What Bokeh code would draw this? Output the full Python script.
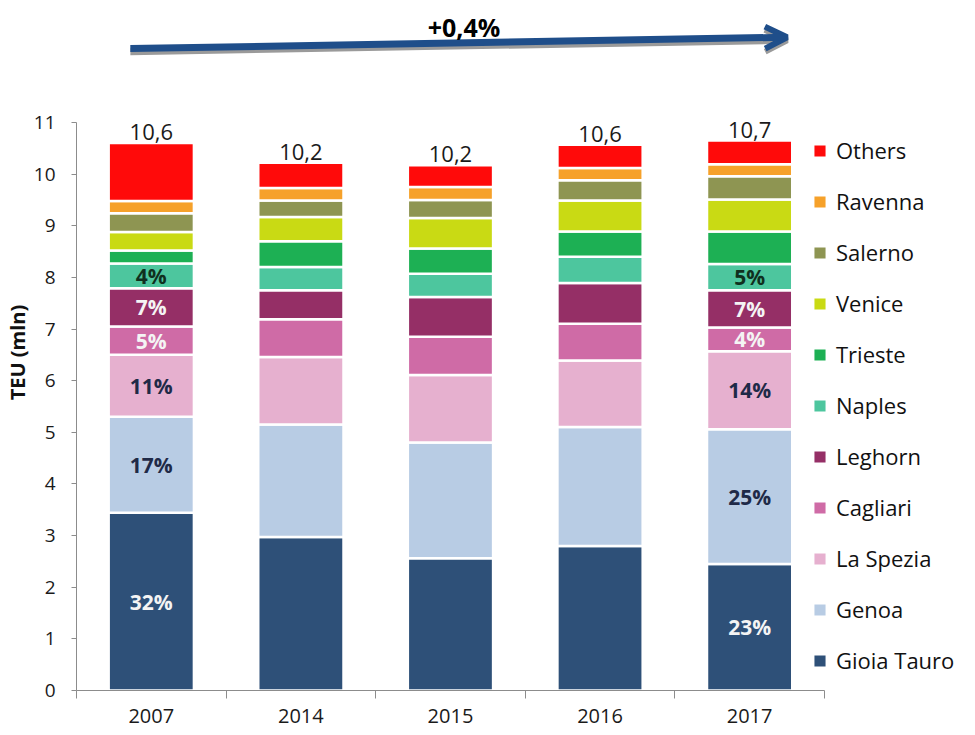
from bokeh.plotting import figure
from bokeh.models import (ColumnDataSource, Legend, LegendItem, FixedTicker,
                          Arrow, OpenHead, Label, Range1d)
from bokeh.core.properties import value
from bokeh.embed import file_html
from bokeh.resources import INLINE

# ---------------- data ----------------
years = ["2007", "2014", "2015", "2016", "2017"]
ports = ["Gioia Tauro", "Genoa", "La Spezia", "Cagliari", "Leghorn", "Naples",
         "Trieste", "Venice", "Salerno", "Ravenna", "Others"]
gioia_tauro = [3.44, 2.97, 2.56, 2.80, 2.45]
genoa       = [1.86, 2.18, 2.24, 2.30, 2.61]
la_spezia   = [1.20, 1.31, 1.31, 1.29, 1.51]
cagliari    = [0.55, 0.73, 0.74, 0.71, 0.46]
leghorn     = [0.74, 0.56, 0.77, 0.79, 0.72]
naples      = [0.48, 0.45, 0.45, 0.51, 0.51]
trieste     = [0.25, 0.50, 0.49, 0.49, 0.63]
venice      = [0.36, 0.47, 0.59, 0.60, 0.62]
salerno     = [0.36, 0.32, 0.35, 0.39, 0.45]
ravenna     = [0.24, 0.24, 0.25, 0.24, 0.23]
others      = [1.12, 0.49, 0.42, 0.45, 0.46]
total_labels = ["10,6", "10,2", "10,2", "10,6", "10,7"]

share_ports = ["Gioia Tauro", "Genoa", "La Spezia", "Cagliari", "Leghorn", "Naples"]
share_2007 = ["32%", "17%", "11%", "5%", "7%", "4%"]
share_2017 = ["23%", "25%", "14%", "4%", "7%", "5%"]
growth_label = "+0,4%"

series = [gioia_tauro, genoa, la_spezia, cagliari, leghorn, naples,
          trieste, venice, salerno, ravenna, others]
colors = ["#2E5078", "#B8CCE4", "#E6B0CF", "#CF6BA6", "#952F66", "#4DC69E",
          "#1DB054", "#C9DA14", "#8E9552", "#F6A12A", "#FF0A0A"]
label_colors = {"Gioia Tauro": "#F4F4F4", "Genoa": "#1F2A48", "La Spezia": "#1F2A48",
                "Cagliari": "#F4F4F4", "Leghorn": "#F4F4F4", "Naples": "#10301E"}

FONT = "Open Sans"

xs = list(range(len(years)))
data = {"x": xs}
for name, vals in zip(ports, series):
    data[name] = vals
source = ColumnDataSource(data)

# frame: 889 px wide, 150.6 px per category; 676 px high, 51.64 px per unit
p = figure(width=959, height=727, output_backend="svg", toolbar_location=None,
           x_range=Range1d(-0.5, 5.403), y_range=Range1d(0, 13.09),
           min_border_left=70, min_border_right=0, min_border_top=14,
           min_border_bottom=37)
p.outline_line_color = None
p.xgrid.visible = False
p.ygrid.visible = False
p.background_fill_color = "white"

renderers = p.vbar_stack(ports, x="x", width=0.57, source=source,
                         fill_color=colors, line_color="white", line_width=2.5)

# totals above bars
totals = [sum(s[i] for s in series) for i in xs]
p.text(x=xs, y=totals, text=total_labels, text_align="center",
       text_baseline="bottom", y_offset=-3, text_font=value(FONT),
       text_font_size="22px", text_color="#1A1A1A")

# share labels
lx, ly, lt, lc = [], [], [], []
for idx, shares in ((0, share_2007), (len(years) - 1, share_2017)):
    cum = 0.0
    for name, vals in zip(ports, series):
        v = vals[idx]
        if name in share_ports:
            k = share_ports.index(name)
            lx.append(idx)
            ly.append(cum + v / 2)
            lt.append(shares[k])
            lc.append(label_colors[name])
        cum += v
p.text(x=lx, y=ly, text=lt, text_color=lc, text_align="center",
       text_baseline="middle", text_font=value(FONT), text_font_size="21px",
       text_font_style="bold")

# axes
p.xaxis.bounds = (xs[0] - 0.5, xs[-1] + 0.5)
p.xaxis.ticker = FixedTicker(ticks=xs, minor_ticks=[i - 0.5 for i in xs] + [xs[-1] + 0.5])
p.xaxis.major_label_overrides = {i: y for i, y in zip(xs, years)}
p.xaxis.major_tick_out = 0
p.xaxis.major_tick_in = 0
p.xaxis.minor_tick_out = 8
p.xaxis.minor_tick_in = 0
p.xaxis.minor_tick_line_color = "#8C8C8C"
p.xaxis.axis_line_color = "#8C8C8C"
p.xaxis.major_label_text_font = FONT
p.xaxis.major_label_text_font_size = "20px"
p.xaxis.major_label_text_color = "#1A1A1A"
p.xaxis.major_label_standoff = 10

p.yaxis.bounds = (0, 11)
p.yaxis.ticker = FixedTicker(ticks=list(range(0, 12)))
p.yaxis.major_tick_out = 5
p.yaxis.major_tick_in = 0
p.yaxis.minor_tick_out = 0
p.yaxis.minor_tick_in = 0
p.yaxis.major_tick_line_color = "#8C8C8C"
p.yaxis.axis_line_color = "#8C8C8C"
p.yaxis.major_label_text_font = FONT
p.yaxis.major_label_text_font_size = "19px"
p.yaxis.major_label_text_color = "#1A1A1A"
p.yaxis.major_label_standoff = 16
p.yaxis.axis_label = "TEU (mln)"
p.yaxis.axis_label_text_font = FONT
p.yaxis.axis_label_text_font_style = "bold"
p.yaxis.axis_label_text_font_size = "20px"
p.yaxis.axis_label_text_color = "#111111"
p.yaxis.axis_label_standoff = 0

# legend (reverse order: Others on top)
items = [LegendItem(label=name, renderers=[r]) for name, r in zip(ports, renderers)][::-1]
legend = Legend(items=items, location=(735, 14), orientation="vertical",
                padding=0, margin=0, spacing=19, glyph_width=17, glyph_height=17,
                label_height=32, label_standoff=8, label_text_font=FONT,
                label_text_font_size="22px", label_text_color="#111111",
                border_line_color=None, background_fill_alpha=0)
p.add_layout(legend)

# growth arrow
blue = "#1F4E8A"
x0, x1 = xs[0] - 0.14, xs[-1] + 0.25
y0, y1 = 12.43, 12.65
p.add_layout(Arrow(end=OpenHead(size=22, line_color="#9A9A9A", line_width=6),
                   x_start=x0, y_start=y0 - 0.06, x_end=x1, y_end=y1 - 0.06,
                   line_color="#9A9A9A", line_width=7))
p.add_layout(Arrow(end=OpenHead(size=22, line_color=blue, line_width=6),
                   x_start=x0, y_start=y0, x_end=x1, y_end=y1,
                   line_color=blue, line_width=7))
p.add_layout(Label(x=2.09, y=12.84, text=growth_label, text_align="center",
                   text_baseline="middle", text_font=FONT, text_font_size="25px",
                   text_font_style="bold", text_color="#000000"))

open("out.html", "w").write(file_html(p, INLINE))
